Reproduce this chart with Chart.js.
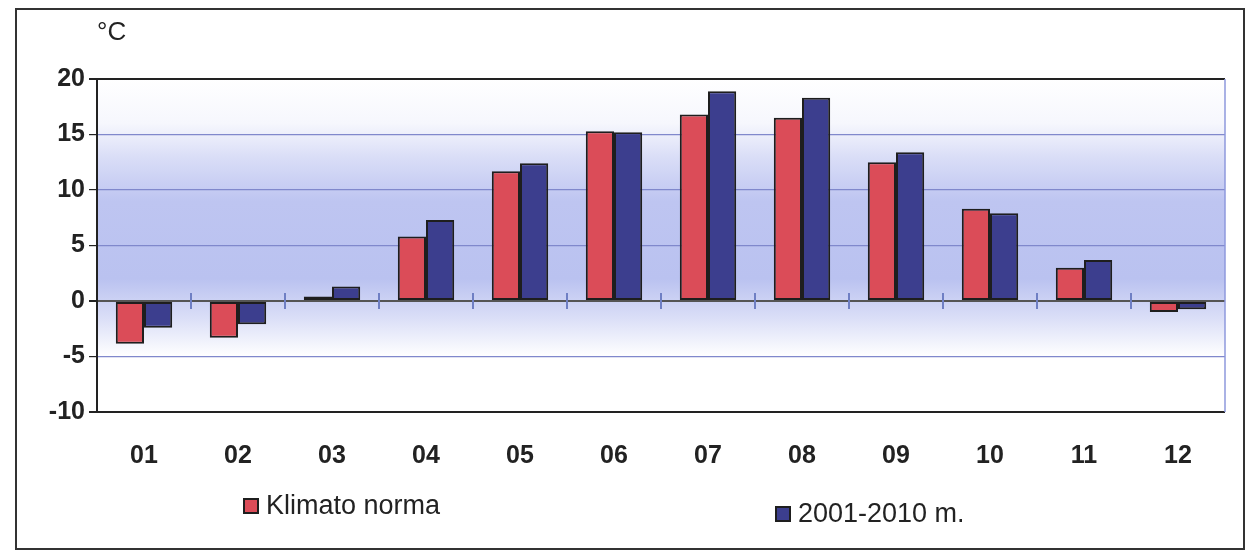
<!DOCTYPE html>
<html>
<head>
<meta charset="utf-8">
<script src="https://cdn.jsdelivr.net/npm/chart.js@4.4.1/dist/chart.umd.min.js"></script>
<style>
    html, body { margin: 0; padding: 0; background: #fff; }
    #wrap { position: relative; width: 1250px; height: 556px; font-family: "Liberation Sans", Arial, sans-serif; color: #222; }
    #frame { position: absolute; left: 15px; top: 8px; width: 1226px; height: 538px; border: 2px solid #333; pointer-events: none; }
    #unit { position: absolute; left: 97px; top: 16px; font-size: 26px; }
    .leg { position: absolute; font-size: 27px; display: flex; align-items: center; }
    .leg span.box { display: inline-block; width: 12px; height: 12px; border: 2px solid #1e1e1e; margin-right: 7px; }
</style>
</head>
<body>
<div id="wrap">
    <canvas id="chartCanvas" width="1250" height="556"></canvas>
    <div id="frame"></div>
    <div id="unit">°C</div>
    <div id="legend"></div>
</div>
<script>
// Mėnesiai
const months = ['01', '02', '03', '04', '05', '06', '07', '08', '09', '10', '11', '12'];
// Klimato norma, °C
const normaValues = [-3.85, -3.3, 0.4, 5.8, 11.7, 15.3, 16.8, 16.5, 12.5, 8.3, 3.0, -1.0];
// 2001-2010 m. vidurkis, °C
const periodValues = [-2.4, -2.1, 1.3, 7.3, 12.4, 15.2, 18.9, 18.3, 13.4, 7.9, 3.7, -0.75];
const seriesLabels = ['Klimato norma', '2001-2010 m.'];
const yTicks = [-10, -5, 0, 5, 10, 15, 20];

document.addEventListener('DOMContentLoaded', function() {
    const ctx = document.getElementById('chartCanvas').getContext('2d');

    // fonas ir padalos ant nulinės linijos
    const plotDecor = {
        id: 'plotDecor',
        beforeDraw(chart) {
            const a = chart.chartArea;
            const y = chart.scales.y;
            const c = chart.ctx;
            const g = c.createLinearGradient(0, a.top, 0, a.bottom);
            const stop = (v, col) => g.addColorStop((y.getPixelForValue(v) - a.top) / (a.bottom - a.top), col);
            stop(20, 'rgb(255,255,255)');
            stop(16, 'rgb(246,247,253)');
            stop(13, 'rgb(218,222,247)');
            stop(9, 'rgb(190,197,241)');
            stop(2, 'rgb(186,194,240)');
            stop(-1.5, 'rgb(218,222,247)');
            stop(-5, 'rgb(255,255,255)');
            stop(-10, 'rgb(255,255,255)');
            c.save();
            c.fillStyle = g;
            c.fillRect(a.left, a.top, a.right - a.left, a.bottom - a.top);
            c.restore();
        },
        afterDatasetsDraw(chart) {
            const a = chart.chartArea;
            const x = chart.scales.x;
            const y0 = chart.scales.y.getPixelForValue(0);
            const c = chart.ctx;
            c.save();
            c.strokeStyle = '#6f7fc4';
            c.lineWidth = 2;
            for (let i = 0; i < months.length - 1; i++) {
                const px = (x.getPixelForValue(i) + x.getPixelForValue(i + 1)) / 2;
                c.beginPath();
                c.moveTo(px, y0 - 8);
                c.lineTo(px, y0 + 8);
                c.stroke();
            }
            c.strokeStyle = '#8e98dc';
            c.lineWidth = 1.5;
            c.beginPath();
            c.moveTo(a.right, a.top);
            c.lineTo(a.right, a.bottom);
            c.stroke();
            c.restore();
        }
    };

    const chart = new Chart(ctx, {
        type: 'bar',
        data: {
            labels: months,
            datasets: [{
                label: seriesLabels[0],
                data: normaValues,
                backgroundColor: '#db4c58',
                borderColor: '#1e1e1e',
                borderWidth: 2,
                borderSkipped: false
            }, {
                label: seriesLabels[1],
                data: periodValues,
                backgroundColor: '#3c3e8e',
                borderColor: '#1e1e1e',
                borderWidth: 2,
                borderSkipped: false
            }]
        },
        options: {
            responsive: false,
            animation: false,
            datasets: {
                bar: { categoryPercentage: 0.6, barPercentage: 1.0 }
            },
            layout: {
                padding: { left: 16, top: 79, right: 25, bottom: 84 }
            },
            scales: {
                x: {
                    grid: { display: false, drawTicks: false },
                    border: { display: false },
                    ticks: {
                        padding: 29,
                        color: '#222',
                        font: { family: 'Liberation Sans', size: 25, weight: 'bold' }
                    },
                    afterFit(scale) { scale.height = 60; }
                },
                y: {
                    min: -10,
                    max: 20,
                    afterBuildTicks(scale) { scale.ticks = yTicks.map(v => ({ value: v })); },
                    grid: {
                        color(c) {
                            const v = c.tick.value;
                            if (v === 20 || v === -10) return '#222';
                            if (v === 0) return '#555';
                            return '#8088cc';
                        },
                        lineWidth(c) {
                            const v = c.tick.value;
                            return (v === 20 || v === -10 || v === 0) ? 2 : 1.2;
                        },
                        tickColor: '#222',
                        tickLength: 8
                    },
                    border: { color: '#222', width: 2 },
                    ticks: {
                        padding: 4,
                        color: '#222',
                        font: { family: 'Liberation Sans', size: 25, weight: 'bold' }
                    },
                    afterFit(scale) { scale.width = 81; }
                }
            },
            plugins: {
                legend: { display: false },
                tooltip: { enabled: false }
            }
        },
        plugins: [plotDecor]
    });

    // legenda iš duomenų rinkinių
    const legendPos = [{ left: 243, top: 490 }, { left: 775, top: 498 }];
    const legend = document.getElementById('legend');
    chart.data.datasets.forEach((ds, i) => {
        const item = document.createElement('div');
        item.className = 'leg';
        item.style.left = legendPos[i].left + 'px';
        item.style.top = legendPos[i].top + 'px';
        item.innerHTML = `<span class="box" style="background:${ds.backgroundColor}"></span>${ds.label}`;
        legend.appendChild(item);
    });
});
</script>
</body>
</html>
